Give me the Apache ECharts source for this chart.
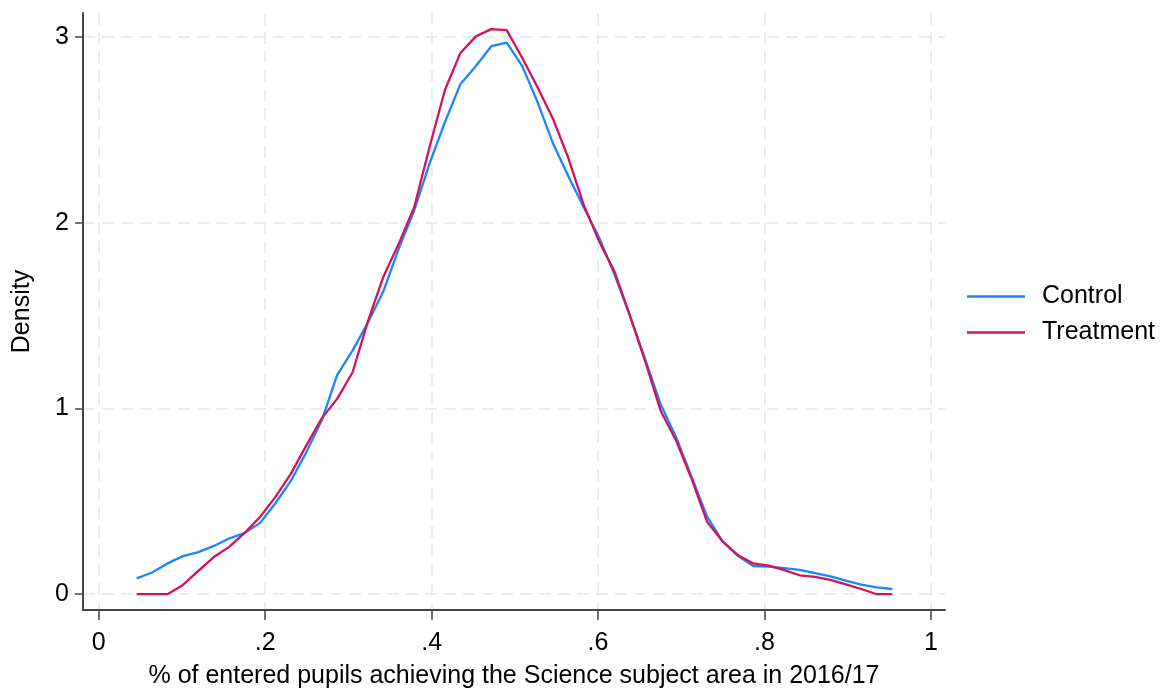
<!DOCTYPE html>
<html>
<head>
<meta charset="utf-8">
<script src="https://cdn.jsdelivr.net/npm/echarts@6/dist/echarts.min.js"></script>
<style>
html,body{margin:0;padding:0;background:#fff;}
#chart{width:1162px;height:694px;}
</style>
</head>
<body>
<div id="chart"></div>
<script>
// Evaluation points (share of entered pupils achieving Science)
var xPoints = [0.0455,0.0640,0.0826,0.1011,0.1196,0.1382,0.1567,0.1752,0.1937,0.2123,
  0.2308,0.2493,0.2679,0.2864,0.3049,0.3235,0.3420,0.3605,0.3790,0.3976,
  0.4161,0.4346,0.4532,0.4717,0.4902,0.5088,0.5273,0.5458,0.5643,0.5829,
  0.6014,0.6199,0.6385,0.6570,0.6755,0.6941,0.7126,0.7311,0.7496,0.7682,
  0.7867,0.8052,0.8238,0.8423,0.8608,0.8794,0.8979,0.9164,0.9349,0.9535];
var controlDensity = [0.085,0.117,0.166,0.205,0.227,0.260,0.300,0.330,0.383,0.490,
  0.610,0.764,0.935,1.180,1.312,1.463,1.631,1.861,2.065,2.320,
  2.544,2.747,2.845,2.951,2.970,2.845,2.650,2.428,2.251,2.083,
  1.920,1.720,1.498,1.260,1.020,0.843,0.630,0.418,0.285,0.205,
  0.152,0.149,0.140,0.131,0.113,0.096,0.073,0.052,0.037,0.028];
var treatmentDensity = [0.000,0.000,0.000,0.050,0.126,0.200,0.255,0.330,0.415,0.524,
  0.648,0.800,0.947,1.052,1.194,1.470,1.710,1.888,2.083,2.410,
  2.717,2.915,3.004,3.043,3.038,2.889,2.730,2.561,2.349,2.095,
  1.900,1.737,1.498,1.250,0.985,0.825,0.620,0.390,0.285,0.210,
  0.166,0.154,0.130,0.102,0.093,0.077,0.053,0.028,0.000,0.000];
var xTicks = [0, 0.2, 0.4, 0.6, 0.8, 1];
var yTicks = [0, 1, 2, 3];
var seriesNames = ['Control', 'Treatment'];

function pairs(xs, ys){ return xs.map(function(x,i){ return [x, ys[i]]; }); }

var font = 'Liberation Sans, Arial, sans-serif';
var fs = 25;
var gridLine = {show:true, lineStyle:{color:'#e6e6e6', width:1.5, type:[12,7]}};

var chart = echarts.init(document.getElementById('chart'), null, {renderer:'canvas'});
chart.setOption({
  backgroundColor:'#ffffff',
  animation:false,
  textStyle:{fontFamily:font},
  grid:{left:83, right:217, top:13, bottom:76, containLabel:false},
  legend:{
    orient:'vertical', left:962, top:279,
    icon:'rect', itemWidth:58, itemHeight:2.5, itemGap:11,
    textStyle:{fontSize:fs, color:'#000', fontFamily:font, padding:[0,0,0,12]},
    data:seriesNames
  },
  xAxis:{
    type:'value', min:-0.019, max:1.017,
    name:'% of entered pupils achieving the Science subject area in 2016/17',
    nameLocation:'middle', nameGap:54,
    nameTextStyle:{fontSize:fs, color:'#000', fontFamily:font},
    axisLine:{show:true, onZero:false, lineStyle:{color:'#444', width:2}},
    axisTick:{show:true, length:10, customValues:xTicks, lineStyle:{color:'#444', width:1.5}},
    axisLabel:{customValues:xTicks, fontSize:fs, color:'#000', margin:21, fontFamily:font,
      formatter:function(v){ if(v===0) return '0'; if(v===1) return '1'; return String(v).replace(/^0/,''); }},
    splitLine:gridLine
  },
  yAxis:{
    type:'value', min:-0.085, max:3.13,
    name:'Density', nameLocation:'middle', nameGap:48, nameRotate:90,
    nameTextStyle:{fontSize:fs, color:'#000', fontFamily:font},
    axisLine:{show:true, onZero:false, lineStyle:{color:'#444', width:2}},
    axisTick:{show:true, length:8, customValues:yTicks, lineStyle:{color:'#444', width:1.5}},
    axisLabel:{customValues:yTicks, fontSize:fs, color:'#000', margin:14, fontFamily:font},
    splitLine:gridLine
  },
  series:[
    {name:seriesNames[0], type:'line', data:pairs(xPoints, controlDensity), symbol:'none',
     lineStyle:{color:'#1a85ff', width:2.3}, itemStyle:{color:'#1a85ff'}, z:2},
    {name:seriesNames[1], type:'line', data:pairs(xPoints, treatmentDensity), symbol:'none',
     lineStyle:{color:'#d41159', width:2.3}, itemStyle:{color:'#d41159'}, z:3}
  ]
});
</script>
</body>
</html>
